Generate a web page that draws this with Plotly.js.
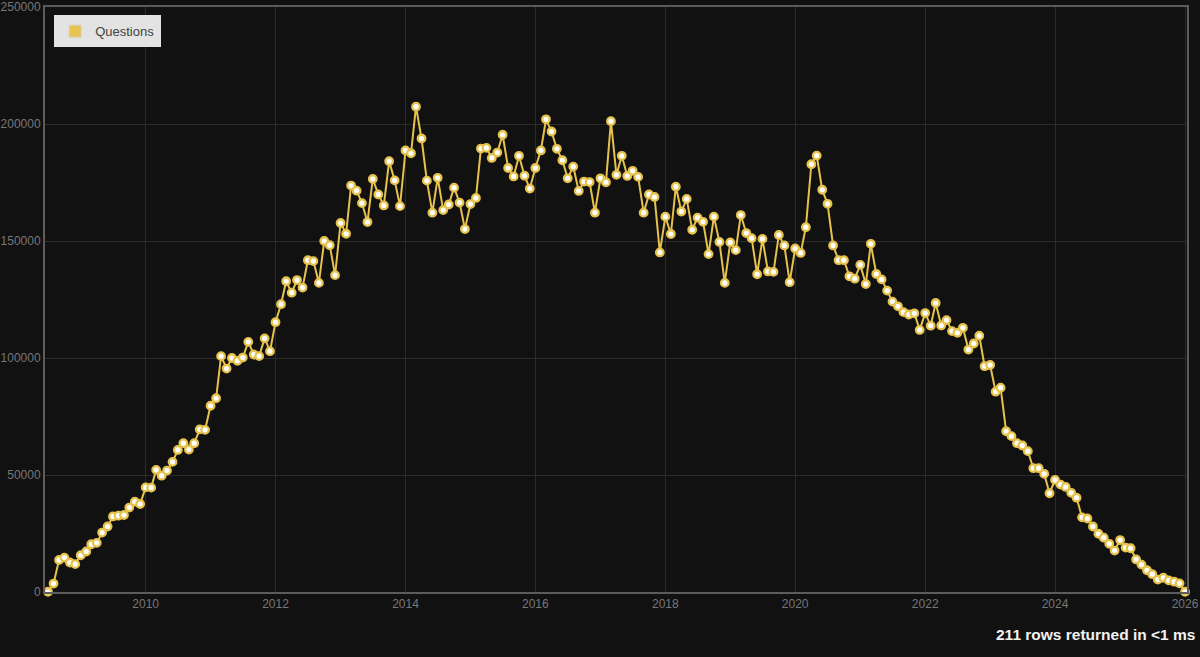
<!DOCTYPE html>
<html>
<head>
<meta charset="utf-8">
<script src="https://cdn.plot.ly/plotly-3.0.1.min.js"></script>
<style>
  html, body { margin: 0; padding: 0; background: #111111; }
  #chart { width: 1200px; height: 657px; }
</style>
</head>
<body>
<div id="chart"></div>
<script>
// Monthly question counts, first month = July 2008
const startYear = 2008;
const startMonth = 7;
const q2008 = [100, 3600, 13700, 14700, 12600, 11900];
const q2009 = [15700, 17300, 20400, 21000, 25400, 28000, 32300, 32600, 32900, 36100, 38600, 37600];
const q2010 = [44700, 44600, 52200, 49700, 51900, 55600, 60700, 63600, 60900, 63600, 69500, 69300];
const q2011 = [79600, 82800, 100800, 95500, 100000, 98800, 100200, 106900, 101500, 100800, 108400, 102900];
const q2012 = [115300, 123000, 132800, 127900, 133300, 130100, 141800, 141400, 132100, 150000, 148200, 135400];
const q2013 = [157700, 153100, 173700, 171500, 166200, 158100, 176500, 169900, 165200, 184100, 175900, 164900];
const q2014 = [188700, 187500, 207400, 193800, 175800, 162100, 177000, 163200, 165600, 172800, 166400, 155100];
const q2015 = [165800, 168400, 189500, 189800, 185500, 187800, 195400, 181200, 177600, 186400, 177900, 172400];
const q2016 = [181200, 188700, 202000, 196800, 189400, 184500, 176800, 181800, 171400, 175400, 175200, 162100];
const q2017 = [176800, 175100, 201200, 178300, 186400, 177800, 180000, 177400, 162100, 169900, 168800, 145100];
const q2018 = [160400, 153000, 173200, 162600, 168000, 154800, 160000, 158200, 144400, 160400, 149600, 132100];
const q2019 = [149400, 146100, 161100, 153400, 151200, 135800, 150900, 137000, 136800, 152600, 148100, 132400];
const q2020 = [146800, 144900, 155900, 182800, 186500, 171900, 165900, 148100, 141800, 141800, 134900, 133900];
const q2021 = [139800, 131600, 148800, 135900, 133600, 128800, 124100, 122100, 119600, 118600, 119100, 112000];
const q2022 = [119200, 113800, 123500, 113900, 116200, 111500, 110800, 112900, 103600, 106200, 109500, 96500];
const q2023 = [97000, 85600, 87300, 68700, 66600, 63600, 62600, 60200, 52900, 52900, 50500, 42200];
const q2024 = [47900, 45900, 44900, 42400, 40300, 31900, 31400, 28000, 24900, 23200, 20600, 17700];
const q2025 = [22200, 19000, 18700, 13900, 11700, 9300, 7600, 5300, 6100, 5000, 4400, 3700];
const q2026 = [100];

const seriesName = 'Questions';
const footerText = '211 rows returned in &lt;1 ms';
const yTicks = [0, 50000, 100000, 150000, 200000, 250000];
const xTickYears = [2010, 2012, 2014, 2016, 2018, 2020, 2022, 2024, 2026];
const xRange = ['2008-06-14', '2026-01-12'];

const values = [].concat(q2008, q2009, q2010, q2011, q2012, q2013, q2014, q2015,
  q2016, q2017, q2018, q2019, q2020, q2021, q2022, q2023, q2024, q2025, q2026);

const dates = values.map((v, i) => {
  const m0 = (startMonth - 1) + i;
  const y = startYear + Math.floor(m0 / 12);
  const m = (m0 % 12) + 1;
  return y + '-' + String(m).padStart(2, '0') + '-01';
});

const gold = '#e6c24c';

const traces = [
  {
    type: 'scatter',
    mode: 'lines+markers',
    x: dates,
    y: values,
    name: seriesName,
    showlegend: false,
    cliponaxis: false,
    line: { color: gold, width: 2 },
    marker: { size: 7.5, color: '#ffffff', line: { color: gold, width: 2.3 } },
    hoverinfo: 'x+y'
  },
  {
    type: 'bar',
    x: [null],
    y: [null],
    name: seriesName,
    showlegend: true,
    marker: { color: '#e8c350', line: { color: '#d9d2b8', width: 1 } }
  }
];

const layout = {
  width: 1200,
  height: 657,
  paper_bgcolor: '#111111',
  plot_bgcolor: '#111111',
  margin: { l: 45, r: 13, t: 7, b: 65, pad: 0 },
  font: { family: 'Liberation Sans, Arial, sans-serif', size: 12, color: '#7a7a7a' },
  xaxis: {
    type: 'date',
    range: xRange,
    tickvals: xTickYears.map(y => y + '-01-01'),
    ticktext: xTickYears.map(String),
    showgrid: true,
    gridcolor: '#2b2b2b',
    gridwidth: 1,
    zeroline: false,
    showline: true,
    linecolor: '#5c5c5c',
    linewidth: 2,
    mirror: true,
    ticks: '',
    ticklen: 0,
    tickfont: { size: 12, color: '#777777' },
    fixedrange: true
  },
  yaxis: {
    range: [0, 250000],
    tickvals: yTicks,
    ticktext: yTicks.map(String),
    showgrid: true,
    gridcolor: '#2b2b2b',
    gridwidth: 1,
    zeroline: false,
    showline: true,
    linecolor: '#5c5c5c',
    linewidth: 2,
    mirror: true,
    ticks: '',
    ticklen: 0,
    tickfont: { size: 12, color: '#777777' },
    fixedrange: true
  },
  showlegend: true,
  legend: {
    x: 0.008,
    y: 0.986,
    xanchor: 'left',
    yanchor: 'top',
    bgcolor: '#e3e3e3',
    borderwidth: 1,
    bordercolor: '#e3e3e3',
    font: { size: 13, color: '#444444', family: 'Liberation Sans, Arial, sans-serif' },
    itemclick: false,
    itemdoubleclick: false
  },
  annotations: [
    {
      xref: 'paper', yref: 'paper',
      x: 1.0088, y: -0.0718,
      xanchor: 'right', yanchor: 'middle',
      text: '<b>' + footerText + '</b>',
      showarrow: false,
      font: { size: 15.5, color: '#f2f2f2', family: 'Liberation Sans, Arial, sans-serif' }
    }
  ]
};

Plotly.newPlot('chart', traces, layout, { displayModeBar: false });
</script>
</body>
</html>
